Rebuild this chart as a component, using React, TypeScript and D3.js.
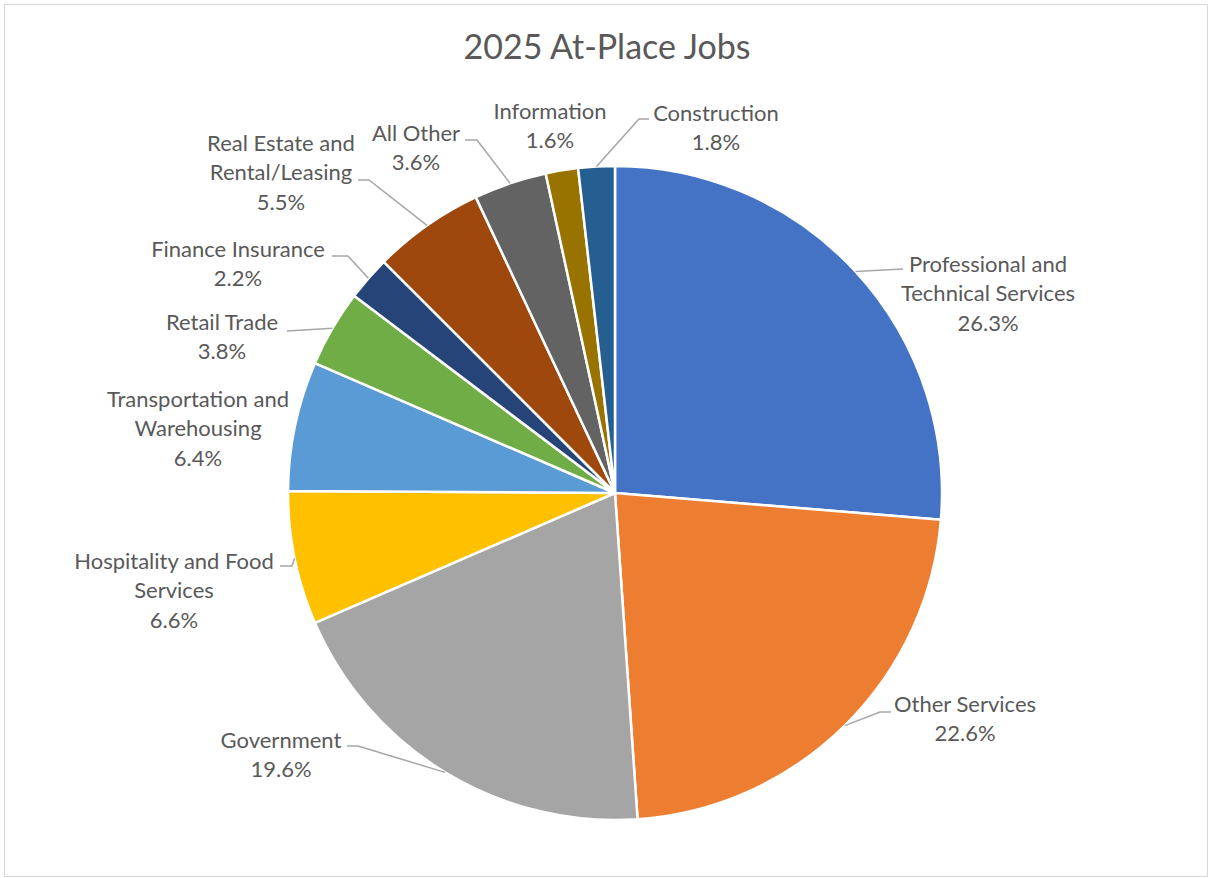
import { useMemo } from "react";
import * as d3 from "d3";

// slices, clockwise from 12 o'clock
const categories = [
  "Professional and Technical Services",
  "Other Services",
  "Government",
  "Hospitality and Food Services",
  "Transportation and Warehousing",
  "Retail Trade",
  "Finance Insurance",
  "Real Estate and Rental/Leasing",
  "All Other",
  "Information",
  "Construction",
];
const shares = [26.3, 22.6, 19.6, 6.6, 6.4, 3.8, 2.2, 5.5, 3.6, 1.6, 1.8];
const colors = [
  "#4472C4",
  "#ED7D31",
  "#A5A5A5",
  "#FFC000",
  "#5B9BD5",
  "#70AD47",
  "#264478",
  "#9E480E",
  "#636363",
  "#997300",
  "#255E91",
];

// label placement (Excel style), words per line + leader points from text side
const labelLayout = [
  { x: 988, y: 264, words: [2, 2], leader: [[903, 269]] },
  { x: 965, y: 704, words: [2], leader: [[891, 712], [880, 712]] },
  { x: 281, y: 740, words: [1], leader: [[347, 746], [358, 746]] },
  { x: 174, y: 561, words: [3, 1], leader: [[280, 566], [292, 566]] },
  { x: 198, y: 399, words: [2, 1], leader: [] },
  { x: 222, y: 322, words: [2], leader: [[287, 331]] },
  { x: 238, y: 249, words: [2], leader: [[332, 256], [348, 256]] },
  { x: 281, y: 143, words: [3, 1], leader: [[358, 180], [369, 180]] },
  { x: 416, y: 133, words: [2], leader: [[465, 140], [477, 140]] },
  { x: 550, y: 111, words: [1], leader: [] },
  { x: 716, y: 113, words: [1], leader: [[649, 119], [639, 119]] },
];

const W = 1209;
const H = 878;
const cx = 615;
const cy = 493;
const R = 327;
const lineH = 29.5;
const font = "Lato, 'Open Sans', sans-serif";
const textColor = "#595959";

function splitWords(name: string, counts: number[]) {
  const words = name.split(" ");
  const out: string[] = [];
  let i = 0;
  counts.forEach((n) => {
    out.push(words.slice(i, i + n).join(" "));
    i += n;
  });
  return out;
}

export default function App() {
  const arcs = useMemo(
    () =>
      d3
        .pie<number>()
        .sort(null)
        .value((v) => v)(shares),
    []
  );
  const arc = d3.arc<d3.PieArcDatum<number>>().innerRadius(0).outerRadius(R);
  const edge = d3.arc<d3.PieArcDatum<number>>().innerRadius(R).outerRadius(R);
  const line = d3.line();

  return (
    <svg
      width={W}
      height={H}
      style={{ position: "absolute", left: 0, top: 0, background: "#fff" }}
    >
      <rect x={4.5} y={4.5} width={1203} height={872} fill="#fff" stroke="#d9d9d9" />
      <text
        x={607}
        y={59}
        textAnchor="middle"
        fontFamily={font}
        fontSize={34}
        fill={textColor}
      >
        2025 At-Place Jobs
      </text>
      <g transform={`translate(${cx},${cy})`}>
        {arcs.map((d, i) => (
          <path
            key={categories[i]}
            d={arc(d) ?? ""}
            fill={colors[i]}
            stroke="#fff"
            strokeWidth={2.5}
            strokeLinejoin="round"
          />
        ))}
      </g>
      {arcs.map((d, i) => {
        const lay = labelLayout[i];
        if (!lay.leader.length) return null;
        const [ax, ay] = edge.centroid(d);
        const pts = [...lay.leader, [cx + ax, cy + ay]] as [number, number][];
        return (
          <path
            key={"l" + i}
            d={line(pts) ?? ""}
            fill="none"
            stroke="#a6a6a6"
            strokeWidth={1.5}
          />
        );
      })}
      {arcs.map((d, i) => {
        const lay = labelLayout[i];
        const lines = [
          ...splitWords(categories[i], lay.words),
          d3.format(".1f")(d.data) + "%",
        ];
        return (
          <text
            key={"t" + i}
            textAnchor="middle"
            fontFamily={font}
            fontSize={22}
            fill={textColor}
          >
            {lines.map((s, k) => (
              <tspan key={k} x={lay.x} y={lay.y + k * lineH} dy="0.35em">
                {s}
              </tspan>
            ))}
          </text>
        );
      })}
    </svg>
  );
}
